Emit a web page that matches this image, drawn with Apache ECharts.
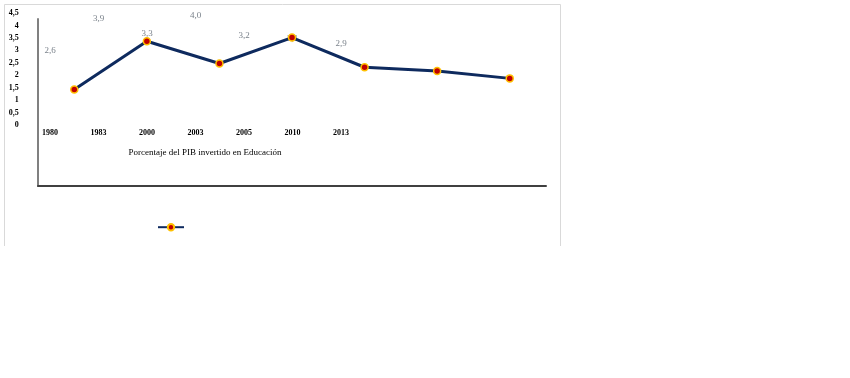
<!DOCTYPE html>
<html>
<head>
<meta charset="utf-8">
<script src="https://cdn.jsdelivr.net/npm/echarts@6/dist/echarts.min.js"></script>
<style>
  html, body {margin: 0; padding: 0; background: #fff;}
  #chart {width: 850px; height: 378px;}
</style>
</head>
<body>
<div id="chart"></div>
<script>
// años (etiquetas del eje) y porcentaje del PIB
const years = ['1980', '1983', '2000', '2003', '2005', '2010', '2013']
const pibValues = [2.6, 3.9, 3.3, 4.0, 3.2, 3.1, 2.9]
const yTicks = [0, 0.5, 1, 1.5, 2, 2.5, 3, 3.5, 4, 4.5]
const title = 'Porcentaje del PIB invertido en Educación'

const serif = '"Liberation Serif", "DejaVu Serif", serif'
const comma = v => String(v).replace('.', ',')

const chart = echarts.init(document.getElementById('chart'), null, {renderer: 'canvas'})

chart.setOption({
  animation: false,
  backgroundColor: '#fff',
  title: {
    text: title,
    left: 200,
    top: 143,
    textAlign: 'center',
    textStyle: {fontFamily: serif, fontSize: 9, fontWeight: 'normal', color: '#000'},
  },
  legend: {
    left: 152,
    top: 218,
    itemWidth: 26,
    itemHeight: 8,
    formatter: () => '',
    data: ['PIB'],
  },
  graphic: [{
    type: 'polyline',
    shape: {points: [[4.5, 246], [4.5, 4.5], [560.5, 4.5], [560.5, 246]]},
    style: {stroke: '#d9d9d9', lineWidth: 1, fill: null},
    silent: true,
  }],
  grid: [
    {left: 38, top: 19, width: 508, height: 167},
    {left: 25.75, top: 13, width: 339.5, height: 112},
  ],
  xAxis: [{
    gridIndex: 0,
    type: 'category',
    data: years,
    boundaryGap: true,
    axisLine: {lineStyle: {color: '#404040', width: 2}},
    axisTick: {show: false},
    axisLabel: {show: false},
  }, {
    gridIndex: 1,
    type: 'category',
    data: years,
    boundaryGap: true,
    axisLine: {show: false},
    axisTick: {show: false},
    axisLabel: {
      margin: 4,
      fontFamily: serif, fontSize: 8, fontWeight: 'bold', color: '#000',
    },
  }],
  yAxis: [{
    gridIndex: 0,
    type: 'value',
    min: 0,
    max: 4.5,
    interval: 0.5,
    axisLine: {show: true, lineStyle: {color: '#808080', width: 2}},
    axisTick: {show: false},
    axisLabel: {show: false},
    splitLine: {show: false},
  }, {
    gridIndex: 1,
    type: 'value',
    min: yTicks[0],
    max: yTicks[yTicks.length - 1],
    interval: 0.5,
    axisLine: {show: false},
    axisTick: {show: false},
    splitLine: {show: false},
    axisLabel: {
      margin: 7,
      formatter: comma,
      fontFamily: serif, fontSize: 8, fontWeight: 'bold', color: '#000',
    },
  }],
  series: [{
    name: 'etiquetas',
    type: 'scatter',
    xAxisIndex: 1,
    yAxisIndex: 1,
    data: pibValues,
    symbolSize: 0,
    z: 1,
    label: {
      show: true,
      position: 'top',
      distance: 5,
      formatter: p => comma(p.value.toFixed(1)),
      fontFamily: serif, fontSize: 9, color: '#56606c',
    },
  }, {
    name: 'PIB',
    type: 'line',
    xAxisIndex: 0,
    yAxisIndex: 0,
    data: pibValues,
    z: 5,
    symbol: 'circle',
    symbolSize: 7,
    lineStyle: {color: '#0e2a5e', width: 3},
    itemStyle: {color: '#c00000', borderColor: '#ffc000', borderWidth: 1.5},
  }],
})
</script>
</body>
</html>
